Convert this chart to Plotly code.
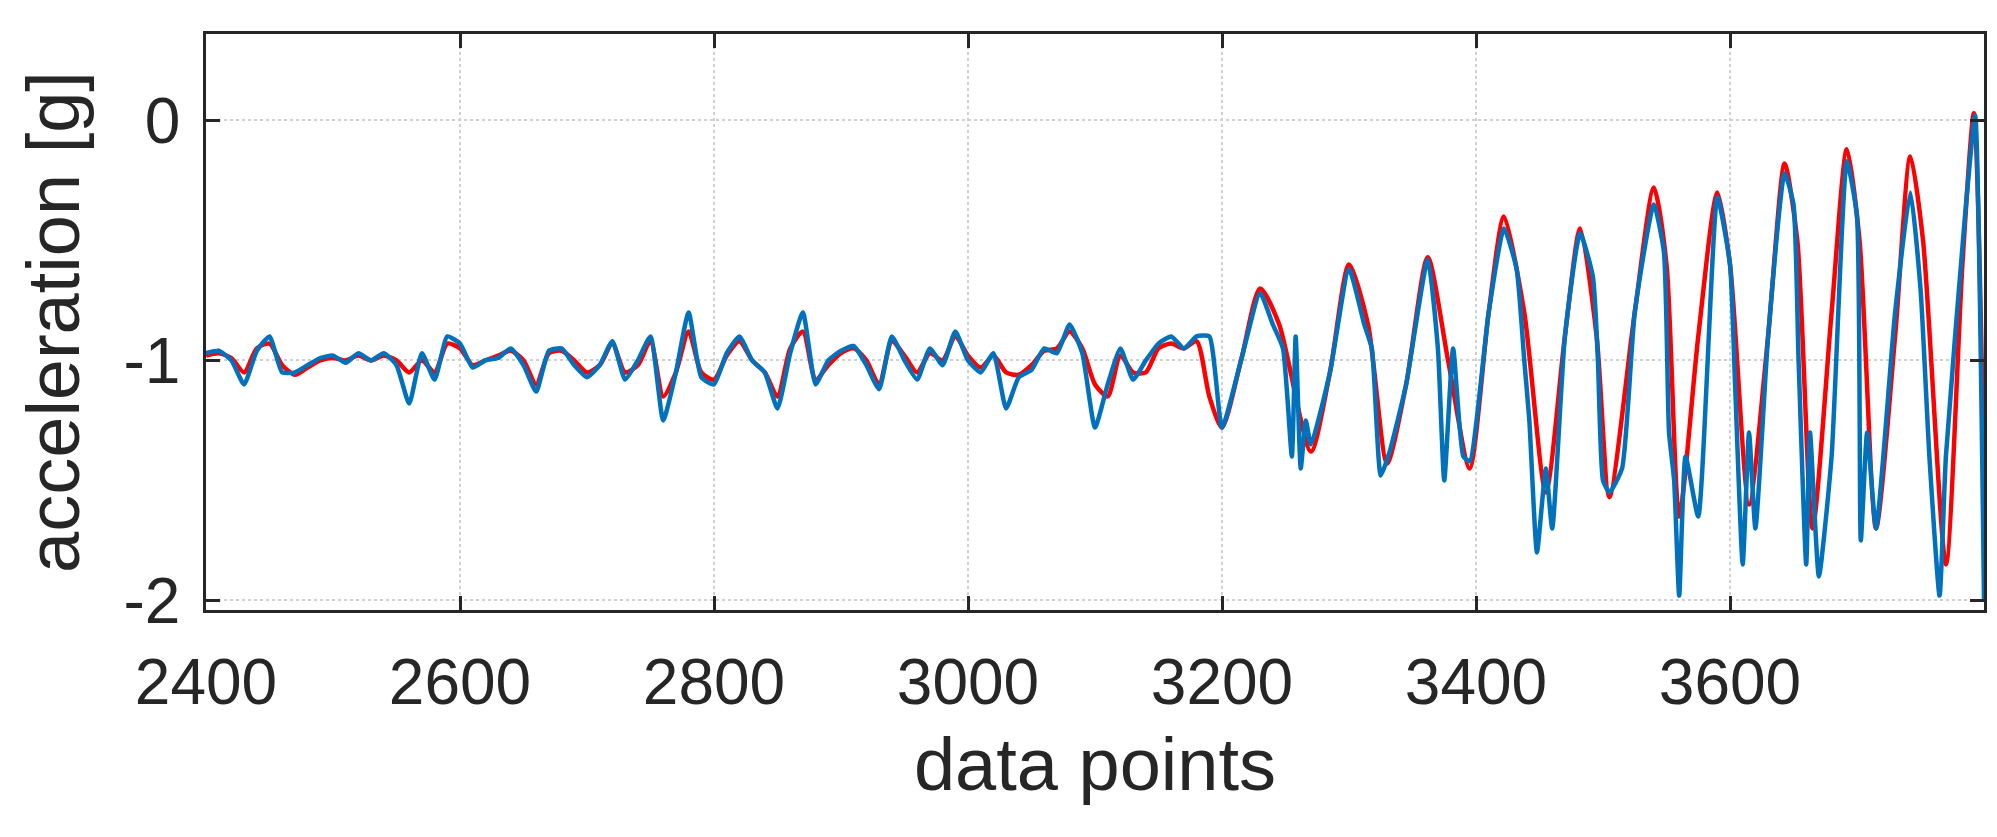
import plotly.graph_objects as go

# red (reference) signal vertices
red_x = list(range(2400, 3201, 10)) + [
    3215, 3230, 3245, 3270, 3285, 3300, 3315, 3330, 3345, 3362, 3378, 3395,
    3410, 3422, 3438, 3455, 3470, 3482, 3495, 3505, 3525, 3540, 3550, 3560,
    3575, 3590, 3600, 3615, 3630, 3643, 3653, 3665, 3680, 3692, 3702, 3715,
    3730, 3742, 3752, 3770, 3783, 3792, 3800]
red_y = [
    -0.98, -0.97, -0.99, -1.05, -0.95, -0.93, -1.02, -1.06, -1.03, -1.0,
    -0.99, -1.0, -0.98, -1.0, -0.98, -1.0, -1.05, -1.0, -1.05, -0.93,
    -0.95, -1.02, -1.0, -0.98, -0.96, -1.0, -1.1, -0.97, -0.96, -1.0,
    -1.05, -1.02, -0.93, -1.05, -1.02, -0.92, -1.15, -1.05, -0.88, -1.05,
    -1.08, -0.98, -0.92, -1.0, -1.05, -1.15, -0.95, -0.88, -1.08, -1.02,
    -0.97, -0.95, -1.0, -1.1, -0.92, -0.98, -1.05, -0.97, -1.0, -0.9,
    -0.98, -1.03, -0.98, -1.05, -1.06, -1.02, -0.96, -0.95, -0.88, -0.95,
    -1.1, -1.15, -0.98, -1.05, -1.05, -0.95, -0.93, -0.95, -0.92, -1.15,
    -1.28,
    -1.0, -0.7, -0.85, -1.38, -1.05, -0.6, -0.85, -1.43, -1.1, -0.57, -1.0, -1.45,
    -0.8, -0.4, -0.8, -1.55, -0.9, -0.45, -0.9, -1.57, -0.8, -0.28, -0.6, -1.65,
    -0.9, -0.3, -0.6, -1.6, -0.9, -0.18, -0.5, -1.7, -0.8, -0.12, -0.5, -1.7,
    -0.9, -0.15, -0.5, -1.85, -0.6, 0.03, -1.5]

# blue (measured) signal vertices
blue_x = list(range(2400, 3201, 10)) + [
    3215, 3230, 3240, 3248, 3255, 3258, 3262, 3266, 3270, 3285, 3300, 3312,
    3318, 3325, 3332, 3345, 3362, 3370, 3375, 3382, 3390, 3395, 3410, 3422,
    3432, 3438, 3442, 3448, 3455, 3460, 3470, 3482, 3492, 3496, 3500, 3505,
    3515, 3525, 3540, 3548, 3552, 3556, 3560, 3565, 3575, 3590, 3600, 3604,
    3610, 3615, 3620, 3630, 3643, 3650, 3654, 3660, 3663, 3670, 3680, 3692,
    3700, 3703, 3708, 3715, 3730, 3742, 3750, 3757, 3765, 3770, 3785, 3793,
    3800]
blue_y = [
    -0.97, -0.96, -1.0, -1.1, -0.96, -0.9, -1.05, -1.05, -1.02, -0.99,
    -0.98, -1.01, -0.97, -1.0, -0.97, -1.02, -1.18, -0.97, -1.08, -0.9,
    -0.93, -1.03, -1.0, -0.99, -0.95, -1.02, -1.13, -0.96, -0.95, -1.02,
    -1.07, -1.02, -0.92, -1.08, -1.0, -0.9, -1.25, -1.05, -0.8, -1.07,
    -1.1, -0.97, -0.9, -1.0, -1.05, -1.2, -0.97, -0.8, -1.1, -1.0,
    -0.96, -0.94, -1.02, -1.12, -0.9, -1.0, -1.08, -0.95, -1.02, -0.88,
    -1.0, -1.05, -0.97, -1.2, -1.07, -1.04, -0.95, -0.97, -0.85, -0.97,
    -1.28, -1.1, -0.95, -1.08, -1.0, -0.93, -0.9, -0.95, -0.9, -0.9,
    -1.28,
    -1.0, -0.72, -0.85, -0.95, -1.4, -0.9, -1.45, -1.25, -1.35, -1.05, -0.62, -0.85,
    -0.95, -1.48, -1.38, -1.1, -0.58, -0.95, -1.5, -0.95, -1.4, -1.42, -0.8, -0.45,
    -0.62, -1.0, -1.25, -1.8, -1.45, -1.7, -0.9, -0.47, -0.65, -1.0, -1.5, -1.55,
    -1.45, -0.8, -0.35, -0.55, -1.3, -1.5, -1.98, -1.4, -1.65, -0.32, -0.6, -1.1,
    -1.85, -1.3, -1.7, -0.9, -0.22, -0.35, -1.0, -1.85, -1.3, -1.9, -1.4, -0.17,
    -0.4, -1.75, -1.3, -1.7, -0.8, -0.3, -0.7, -1.4, -1.98, -1.4, -0.4, 0.02,
    -2.0]

x_ticks = [2400, 2600, 2800, 3000, 3200, 3400, 3600]
y_ticks = [-2, -1, 0]
y_tick_labels = ["-2", "-1", "0"]

FONT = "Liberation Sans, Arial"
INK = "#262626"

fig = go.Figure()
fig.add_trace(go.Scatter(x=red_x, y=red_y, mode="lines", showlegend=False,
                         line=dict(color="#ff0000", width=4.5, shape="spline", smoothing=0.7)))
fig.add_trace(go.Scatter(x=blue_x, y=blue_y, mode="lines", showlegend=False,
                         line=dict(color="#0072bd", width=4.5, shape="spline", smoothing=0.5)))

axis_common = dict(
    showline=True, mirror="ticks", linecolor=INK, linewidth=2.5,
    ticks="inside", ticklen=14, tickwidth=2.5, tickcolor=INK,
    showgrid=True, gridcolor="#d0d0d0", griddash="dot", gridwidth=1.5,
    zeroline=False, tickfont=dict(family=FONT, size=64, color=INK),
)
fig.update_xaxes(range=[2400, 3800], tickvals=x_ticks, ticklabelstandoff=14,
                 title=dict(text="data points", font=dict(family=FONT, size=74, color=INK),
                            standoff=22),
                 **axis_common)
fig.update_yaxes(range=[-2.04, 0.36], tickvals=y_ticks, ticktext=y_tick_labels,
                 ticklabelstandoff=10,
                 title=dict(text="acceleration [g]", font=dict(family=FONT, size=74, color=INK),
                            standoff=20),
                 **axis_common)
fig.update_layout(
    width=1997, height=837,
    margin=dict(l=198, r=21, t=26, b=235),
    plot_bgcolor="white", paper_bgcolor="white",
)
fig.write_html("out.html")
